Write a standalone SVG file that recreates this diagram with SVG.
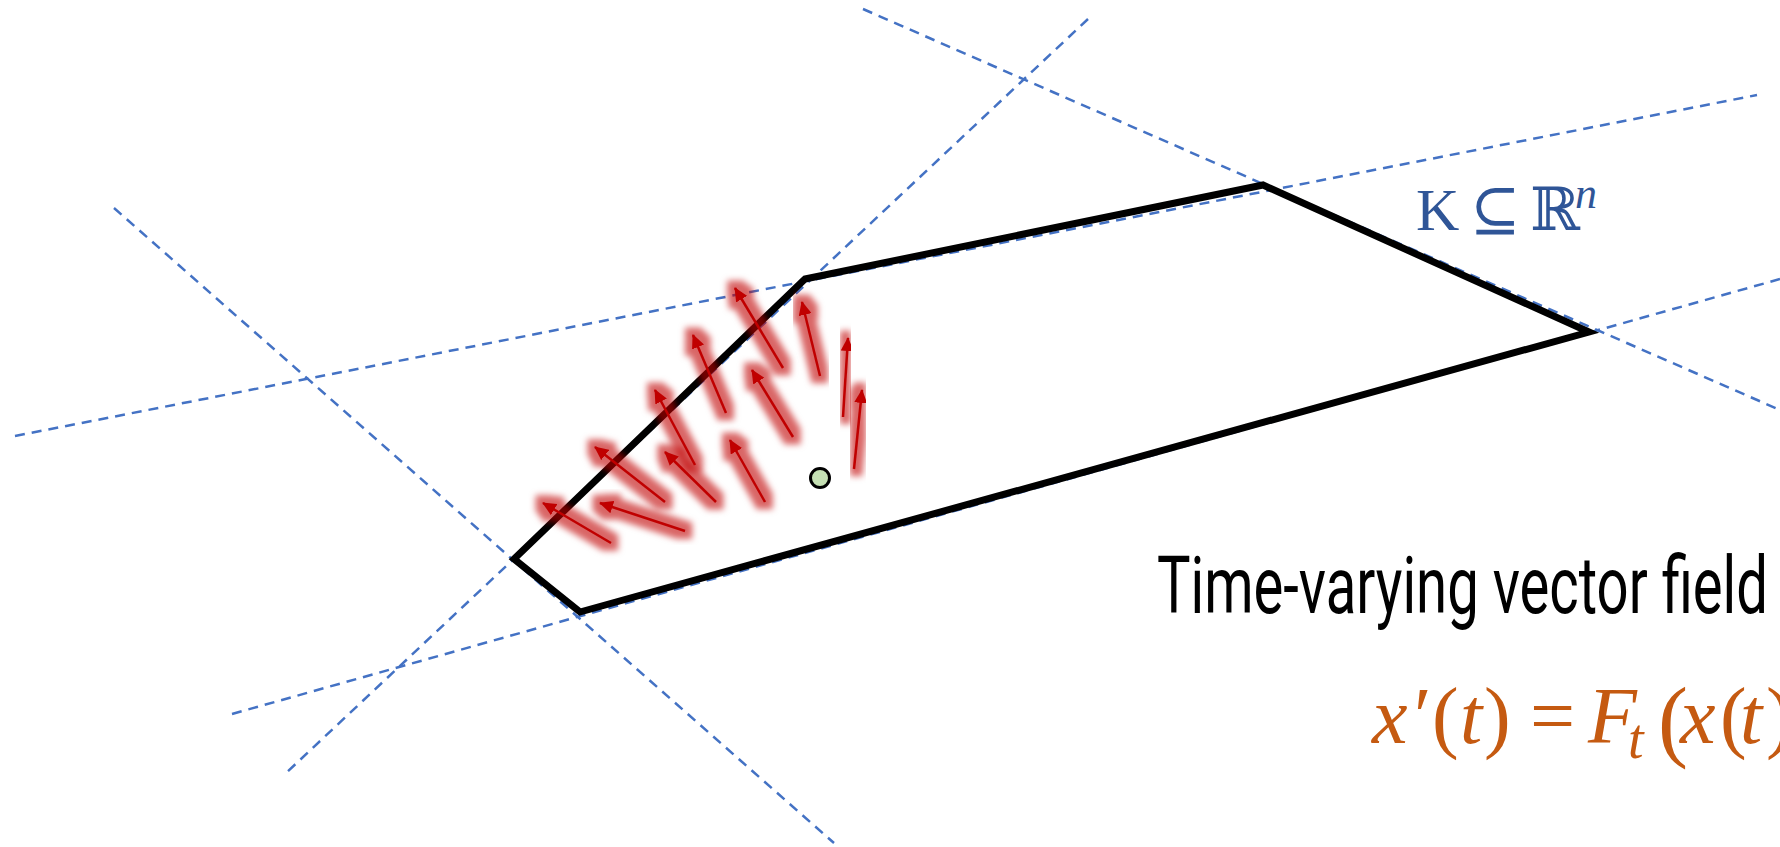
<svg xmlns="http://www.w3.org/2000/svg" width="1780" height="847" viewBox="0 0 1780 847">
  <style>
    .dash { stroke: #4472C4; stroke-width: 2.5; stroke-dasharray: 10 7; fill: none; }
    .edge { stroke: #000000; stroke-width: 7; fill: none; stroke-linejoin: miter; }
    .vec { stroke: #C00000; stroke-width: 2.5; fill: none; marker-end: url(#head); }
    .glow { filter: url(#redglow); }
    .label { font-family: "Liberation Serif", "DejaVu Serif", serif; fill: #2F5597; font-size: 60px; }
    .math { font-family: "Liberation Serif", "DejaVu Serif", serif; fill: #C55A11; font-size: 80px; }
    .title { font-family: Roboto, "Liberation Sans", sans-serif; fill: #000000; font-size: 80px; }
  </style>
  <defs>
    <marker id="head" viewBox="0 0 14 13" refX="13" refY="6.5" markerWidth="14" markerHeight="13" markerUnits="userSpaceOnUse" orient="auto">
      <path d="M0,0 L14,6.5 L0,13 z" fill="#C00000"/>
    </marker>
    <filter id="redglow" x="-50%" y="-50%" width="200%" height="200%">
      <feMorphology in="SourceAlpha" operator="dilate" radius="7" result="d"/>
      <feGaussianBlur in="d" stdDeviation="3" result="b"/>
      <feFlood flood-color="#C00000" flood-opacity="0.6"/>
      <feComposite in2="b" operator="in" result="g"/>
      <feMerge>
        <feMergeNode in="g"/>
        <feMergeNode in="SourceGraphic"/>
      </feMerge>
    </filter>
  </defs>

  <g id="constraint-lines">
    <line class="dash" x1="863" y1="9" x2="1780" y2="410"/>
    <line class="dash" x1="1088" y1="19" x2="285" y2="774"/>
    <line class="dash" x1="15" y1="436" x2="1757" y2="95"/>
    <line class="dash" x1="114" y1="208" x2="834" y2="843"/>
    <line class="dash" x1="232" y1="714" x2="1780" y2="279"/>
  </g>

  <g id="region-K">
    <polygon class="edge" points="805,279 1263,185 1589,332 580,612 514,559"/>
  </g>

  <g id="vector-field">
    <g class="glow"><line class="vec" x1="783" y1="368" x2="735" y2="288"/></g>
    <g class="glow"><line class="vec" x1="820" y1="376" x2="802" y2="302"/></g>
    <g class="glow"><line class="vec" x1="843" y1="417" x2="848" y2="338"/></g>
    <g class="glow"><line class="vec" x1="854" y1="469" x2="862" y2="390"/></g>
    <g class="glow"><line class="vec" x1="726" y1="413" x2="693" y2="335"/></g>
    <g class="glow"><line class="vec" x1="793" y1="437" x2="752" y2="370"/></g>
    <g class="glow"><line class="vec" x1="695" y1="465" x2="655" y2="390"/></g>
    <g class="glow"><line class="vec" x1="765" y1="502" x2="730" y2="440"/></g>
    <g class="glow"><line class="vec" x1="716" y1="502" x2="665" y2="452"/></g>
    <g class="glow"><line class="vec" x1="665" y1="502" x2="595" y2="447"/></g>
    <g class="glow"><line class="vec" x1="685" y1="531" x2="600" y2="503"/></g>
    <g class="glow"><line class="vec" x1="611" y1="543" x2="543" y2="503"/></g>
  </g>

  <g id="point">
    <circle cx="820" cy="478" r="9.5" fill="#C5E0B4" stroke="#000000" stroke-width="3"/>
  </g>

  <g id="label-K">
    <text class="label" y="230"><tspan x="1416">K</tspan><tspan x="1470">⊆</tspan><tspan x="1530">ℝ</tspan><tspan x="1575" y="208" font-size="44" font-style="italic">n</tspan></text>
  </g>

  <g id="title">
    <text class="title" x="1157" y="613" textLength="611" lengthAdjust="spacingAndGlyphs">Time-varying vector field</text>
  </g>

  <g id="equation">
    <text class="math" y="743"><tspan x="1372" font-style="italic">x</tspan><tspan x="1414">′</tspan><tspan x="1432">(</tspan><tspan x="1460" font-style="italic">t</tspan><tspan x="1484">)</tspan><tspan x="1530">=</tspan><tspan x="1588" font-style="italic">F</tspan><tspan x="1628" y="758" font-size="56" font-style="italic">t</tspan><tspan x="1658" y="750" font-size="90">(</tspan><tspan x="1680" y="743" font-style="italic">x</tspan><tspan x="1720">(</tspan><tspan x="1740" font-style="italic">t</tspan><tspan x="1766">)</tspan></text>
  </g>
</svg>
